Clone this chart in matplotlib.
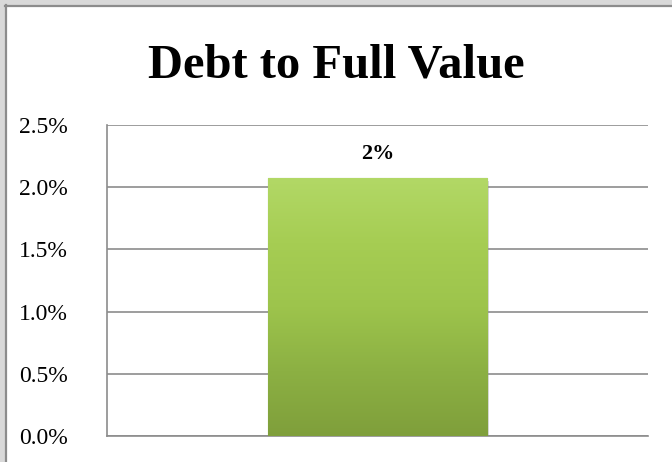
import numpy as np
import matplotlib.pyplot as plt
from matplotlib.patches import Rectangle
from matplotlib.colors import LinearSegmentedColormap

# DATA
categories = ["Debt to Full Value"]
values = [2.07]
bar_labels = ["2%"]
yticks = [0.0, 0.5, 1.0, 1.5, 2.0, 2.5]
ytick_labels = ["0.0%", "0.5%", "1.0%", "1.5%", "2.0%", "2.5%"]

W, H = 672, 462
fig = plt.figure(figsize=(W / 100, H / 100), dpi=100)
fig.patch.set_facecolor("#d9d9d9")

# white chart panel with dark edge on top / left
fig.patches.append(Rectangle((5 / W, 0), 1, 1 - 5 / H, transform=fig.transFigure,
                             facecolor="white", edgecolor="none", zorder=-5))
fig.add_artist(plt.Line2D([5 / W, 1], [1 - 5.5 / H, 1 - 5.5 / H], color="#8c8c8c", lw=1.6))
fig.add_artist(plt.Line2D([5.5 / W, 5.5 / W], [0, 1 - 5 / H], color="#8c8c8c", lw=1.6))

ax = fig.add_axes([107 / W, 26 / H, 541 / W, 311 / H])
ax.set_facecolor("none")
ax.set_zorder(2)

x = np.arange(len(categories))
bars = ax.bar(x, values, width=0.405, color="none", edgecolor="#7a9a3a", lw=0.8, zorder=3)

# green vertical gradient inside the bar
cmap = LinearSegmentedColormap.from_list("grn", ["#b2d866", "#a6cd53", "#9dc44c", "#8cb043", "#7f9f3b"])
grad = np.linspace(0, 1, 256).reshape(-1, 1)
for b in bars:
    x0, w, h = b.get_x(), b.get_width(), b.get_height()
    # soft shadow
    ax.add_patch(Rectangle((x0 + 0.004, -0.02), w, h, facecolor="#9a9a9a", alpha=0.35,
                           edgecolor="none", zorder=2))
    im = ax.imshow(grad, cmap=cmap, aspect="auto", extent=(x0, x0 + w, 0, h),
                   origin="upper", zorder=3)
    im.set_clip_path(b)

for b, lab in zip(bars, bar_labels):
    ax.annotate(lab, (b.get_x() + b.get_width() / 2, b.get_height()),
                xytext=(0, 14), textcoords="offset points", ha="center", va="baseline",
                fontsize=16, fontweight="bold", family="Liberation Serif")

ax.set_xlim(-0.5, 0.5)
ax.set_ylim(0, 2.5)
ax.set_yticks(yticks)
ax.set_yticklabels(ytick_labels, family="Liberation Serif", fontsize=17)
ax.set_xticks([])
ax.tick_params(axis="y", length=0, pad=28)
ax.grid(axis="y", color="#8c8c8c", lw=1.2, zorder=1)
ax.set_axisbelow(True)
for s in ["top", "right"]:
    ax.spines[s].set_visible(False)
ax.spines["left"].set_color("#8c8c8c")
ax.spines["left"].set_linewidth(1.2)
ax.spines["bottom"].set_color("#8c8c8c")
ax.spines["bottom"].set_linewidth(1.2)

fig.text(336 / W, 1 - 78 / H, "Debt to Full Value", ha="center", va="baseline",
         fontsize=35, fontweight="bold", family="Liberation Serif")

plt.savefig("out.png", dpi=100, facecolor=fig.get_facecolor())
